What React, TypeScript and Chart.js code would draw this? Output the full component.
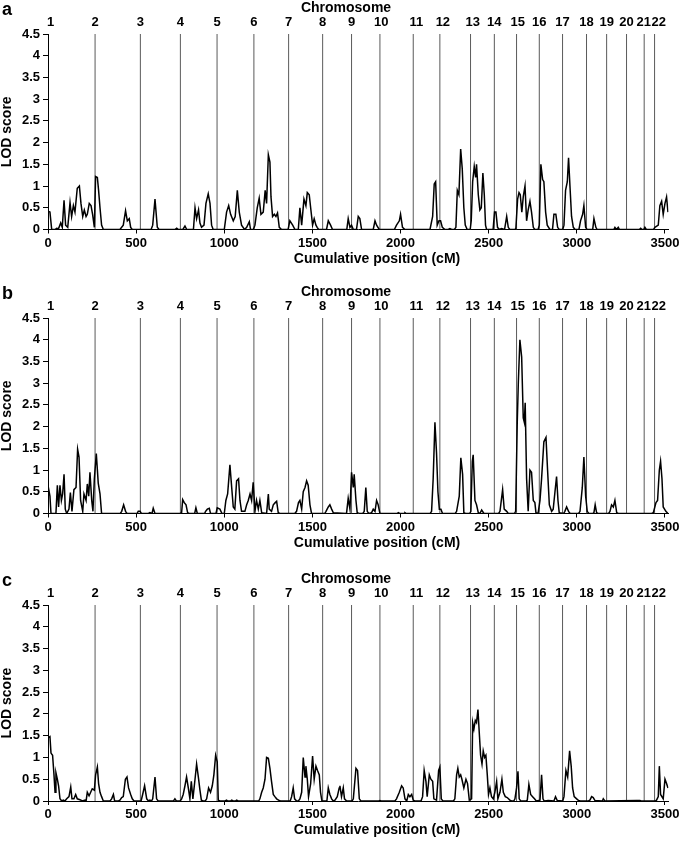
import React, { useEffect, useRef } from "react";
import { Chart, registerables } from "chart.js";

Chart.register(...registerables);

const FONT = "'Liberation Sans', Arial, Helvetica, sans-serif";

const chromosomeNames = ["1","2","3","4","5","6","7","8","9","10","11","12","13","14","15","16","17","18","19","20","21","22"];
const chromosomeStarts = [0, 267, 524, 751, 959, 1168, 1365, 1558, 1722, 1883, 2072, 2223, 2397, 2532, 2658, 2787, 2919, 3055, 3169, 3282, 3382, 3441];
const chromosomeLabelPositions = [15, 267, 524, 751, 959, 1168, 1365, 1558, 1722, 1890, 2090, 2240, 2410, 2532, 2665, 2787, 2919, 3055, 3169, 3282, 3380, 3465];
const xTickValues = [0, 500, 1000, 1500, 2000, 2500, 3000, 3500];
const yTickValues = [0, 0.5, 1, 1.5, 2, 2.5, 3, 3.5, 4, 4.5];

// Panel a
const posA = [0,11,21,40,49,60,72,81,91,100,112,125,134,144,153,166,178,187,197,206,216,223,234,244,253,263,270,280,287,295,304,314,
408,427,440,450,461,469,478,
585,594,607,620,630,
720,730,740,765,777,787,
825,834,843,854,862,871,885,896,909,919,928,937,
1000,1013,1025,1036,1051,1062,1074,1085,1098,1115,1127,1142,1149,
1165,1174,1187,1198,1208,1221,1232,1240,1250,1259,1265,1274,1284,1293,1302,1312,1325,
1362,1372,1388,1401,1420,
1429,1439,1452,1463,1471,1482,1490,1501,1510,1520,1527,1535,
1580,1590,1603,1614,
1695,1703,1713,1722,1732,1750,1760,1769,1779,
1845,1855,1864,1879,
1965,1977,1993,2000,2011,2025,
2167,2182,2191,2199,2208,2218,2227,2237,2252,
2270,2280,2290,2305,2314,2322,2331,2341,2350,2359,2367,2378,
2395,2401,2409,2418,2426,2431,2441,2450,2458,2467,2475,2482,2488,
2525,2533,2541,2550,2560,2573,2590,2602,2611,2620,
2648,2654,2664,2672,2679,2688,2696,2706,2715,2724,2734,2743,2753,2762,
2780,2787,2796,2806,2813,2823,2832,2847,
2862,2870,2881,2891,2900,
2920,2927,2936,2946,2953,2961,2970,2980,2990,
3012,3021,3033,3040,3050,3058,
3090,3097,3108,3115,
3210,3216,3225,3235,3242,
3355,3362,3370,3380,3386,3394,
3435,3443,3462,3471,3481,3490,3500,3509,3517];
const lodA = [0.42,0.4,0,0,0.03,0.02,0.15,0.05,0.67,0.1,0.05,0.62,0.3,0.55,0.4,0.95,1.0,0.6,0.3,0.45,0.3,0.35,0.6,0.55,0.35,0.05,1.22,1.2,0.9,0.5,0.1,0,
0,0.1,0.43,0.2,0.25,0.05,0,
0,0.1,0.7,0.05,0,
0,0.03,0,0,0.08,0,
0,0.5,0.25,0.45,0.15,0.05,0.1,0.6,0.82,0.6,0.1,0,
0,0.4,0.55,0.35,0.2,0.3,0.9,0.4,0.1,0,0.05,0.18,0,
0,0.1,0.5,0.72,0.35,0.4,0.9,0.6,1.72,1.55,0.75,0.3,0.35,0.3,0.38,0.05,0,
0,0.2,0.1,0,0,
0.5,0.1,0.7,0.55,0.85,0.8,0.5,0.1,0.25,0.1,0.05,0,
0,0.2,0.1,0,
0,0.25,0.05,0.1,0,0,0.3,0.25,0,
0,0.2,0.1,0,
0,0.1,0.2,0.35,0.05,0,
0,0.3,1.05,1.1,0.1,0.2,0.2,0.05,0,
0,0.02,0,0,0.05,0.9,0.8,1.85,1.4,0.5,0.1,0,
0,0.2,1.1,1.45,1.2,1.5,0.8,0.45,0.5,1.3,0.8,0.1,0,
0,0.4,0.4,0.05,0,0.02,0,0.3,0.05,0,
0,0.02,0.7,0.85,0.8,0.4,0.75,1.0,0.2,0.45,0.65,0.4,0.05,0,
0,0.1,1.5,1.15,1.1,0.4,0.1,0,
0,0.35,0.35,0.05,0,
0,0.1,0.9,1.1,1.65,1.0,0.3,0.05,0,
0,0.2,0.35,0.55,0.05,0,
0,0.25,0.05,0,
0,0.05,0,0.05,0,
0,0.03,0,0,0.05,0,
0,0.05,0.1,0.55,0.65,0.35,0.6,0.75,0.4];

// Panel b
const posB = [0,11,17,45,53,60,68,76,83,91,98,106,119,127,136,147,159,168,176,185,197,204,216,223,231,238,248,255,263,274,285,295,304,
410,418,429,440,448,
505,512,522,530,570,578,590,597,607,
750,758,764,773,783,792,800,832,839,847,888,894,904,915,922,
953,960,975,987,
1000,1009,1019,1032,1042,1051,1060,1070,1081,1089,1098,1117,1127,1136,1146,1155,1164,1174,1183,1193,1202,1212,1240,1250,1255,1268,1278,1289,1297,1306,1315,
1400,1410,1421,1429,1439,1448,1458,1467,1476,1486,1495,
1570,1577,1590,1599,1609,1618,1690,
1694,1703,1713,1722,1732,1737,1747,1754,1765,
1786,1794,1803,1811,1820,1836,1845,1855,1864,1873,1883,
1980,1987,1995,2020,2025,2032,
2168,2176,2185,2195,2204,2212,2220,2229,2238,
2310,2318,2333,2342,2352,2359,2368,
2392,2399,2407,2412,2422,2431,2441,2450,2460,2473,
2556,2564,2579,2588,2602,2611,
2646,2653,2662,2668,2677,2687,2696,2702,2707,2715,2724,2734,2743,2753,2762,2768,2780,
2791,2800,2813,2825,2834,2844,2857,2866,2876,2885,2893,2900,2925,2932,2942,2953,2962,
3010,3018,3031,3040,3050,3059,3068,
3090,3097,3104,3112,3120,
3180,3188,3197,3207,3216,3226,3235,
3425,3434,3449,3458,3468,3475,3483,3490,3505,3517];
const lodB = [0.65,0.4,0,0,0.65,0.15,0.65,0.3,0.45,0.9,0.1,0,0.1,0.48,0.05,0.55,0.6,1.48,1.3,0.3,0.05,0.45,0.3,0.68,0.4,0.95,0.3,0.05,0.8,1.38,0.7,0.45,0,
0,0.05,0.2,0.05,0,
0,0.05,0.05,0,0,0.02,0,0.12,0,
0,0.02,0.32,0.25,0.2,0.02,0,0,0.13,0,0,0.05,0.1,0.12,0,
0,0.13,0.1,0,
0,0.3,0.45,1.12,0.6,0.15,0.1,0.75,0.8,0.3,0.05,0.05,0.2,0.3,0.45,0.3,0.72,0.05,0.3,0.1,0.3,0.02,0,0.45,0.1,0.05,0.2,0.25,0.28,0.02,0,
0,0.05,0.25,0.3,0.1,0.5,0.6,0.75,0.65,0.2,0,
0,0.05,0.15,0.2,0.1,0.02,0,
0.02,0.35,0.1,0.95,0.6,0.9,0.3,0.02,0,
0,0.05,0.6,0.05,0,0.02,0.1,0.05,0.3,0.2,0,
0,0.02,0,0,0.02,0,
0,0.05,0.8,2.1,1.4,0.5,0.1,0.1,0,
0,0.05,0.4,1.28,0.9,0.02,0,
0,0.05,1.2,1.35,0.3,0.2,0.02,0,0.08,0,
0,0.05,0.55,0.1,0.05,0,
0,0.05,2.1,3.0,4.0,3.6,2.2,2.1,2.55,0.8,0.05,1.0,0.95,0.3,0.25,0.02,0,
0.3,0.8,1.65,1.75,1.0,0.2,0.05,0.1,0.5,0.85,0.3,0.02,0,0.05,0.15,0.05,0,
0,0.05,0.6,1.3,0.4,0.05,0,
0,0.02,0.2,0.02,0,
0,0.05,0.2,0.15,0.3,0.02,0,
0,0.02,0.25,0.3,1.0,1.2,0.8,0.15,0.05,0];

// Panel c
const posC = [0,11,17,26,34,40,45,53,60,68,78,87,96,106,119,129,136,147,157,166,181,195,210,216,223,233,242,251,263,270,280,287,295,304,314,
352,361,371,378,
400,408,418,427,439,448,457,469,478,488,
528,537,548,560,570,578,587,594,607,616,625,
712,720,728,750,758,767,777,786,796,805,813,822,834,843,853,862,870,880,
892,900,911,922,932,941,951,960,966,975,
1005,1013,1020,1035,1042,1050,1063,1070,1078,
1195,1202,1212,1221,1231,1240,1250,1259,1268,1278,1287,1297,1308,1318,
1374,1382,1391,1399,1410,1420,
1429,1439,1448,1458,1463,1471,1478,1490,1501,1510,1520,1529,1539,1546,1554,
1582,1590,1599,1609,1618,1628,1641,1652,1656,1665,1675,1682,1694,
1725,1732,1747,1756,1766,1775,
1876,1883,1890,
1968,1977,1993,2006,2015,2025,2035,2044,2053,2063,2072,2080,
2116,2125,2134,2144,2151,2163,2172,2182,2189,2204,2216,2223,2231,2240,
2300,2308,2318,2325,2333,2341,2348,2359,2371,2380,2390,
2403,2409,2416,2424,2431,2439,2446,2454,2462,2469,2477,2484,2492,2499,2507,2516,2526,2535,2545,2552,2564,2575,2583,2594,2605,2620,2630,
2642,2649,2658,2666,2673,2682,
2712,2719,2728,2738,2749,2760,2770,2791,2800,2808,2815,2838,2870,2879,2889,
2920,2927,2938,2948,2959,2968,2976,2985,2999,3010,3020,
3066,3074,3084,3093,3103,3145,3150,3159,
3339,3358,3365,
3445,3452,3462,3468,3475,3490,3500,3509,3517];
const lodC = [1.45,1.48,1.1,1.05,0.6,0.2,0.65,0.5,0.35,0.05,0,0.02,0,0.05,0.1,0.32,0.05,0.05,0.15,0.05,0.03,0,0.02,0,0.2,0.12,0.2,0.28,0.25,0.6,0.78,0.4,0.2,0.1,0,
0,0.05,0.15,0,
0,0.02,0.08,0.1,0.5,0.55,0.3,0.15,0.05,0,
0,0.15,0.35,0.05,0,0.02,0,0.05,0.55,0.05,0,
0,0.05,0,0,0.05,0.15,0.35,0.55,0.3,0.05,0.45,0.05,0.5,0.85,0.55,0.25,0.02,0,
0,0.05,0.3,0.2,0.35,0.6,1.05,0.9,0.02,0,
0,0.02,0,0,0.02,0,0,0.02,0,
0,0.05,0.2,0.3,0.5,1.0,0.98,0.75,0.45,0.15,0.1,0.05,0.02,0,
0,0.1,0.3,0.05,0,0,
0.05,0.2,1.0,0.55,0.8,0.5,0.1,0.4,1.03,0.5,0.8,0.7,0.6,0.2,0,
0,0.3,0.15,0.05,0,0.02,0.1,0.3,0.35,0.1,0.3,0.05,0,
0,0.05,0.75,0.7,0.05,0,
0,0.01,0,
0,0.05,0.2,0.35,0.3,0.05,0,0.15,0.1,0.15,0.02,0,
0,0.1,0.7,0.45,0.1,0.6,0.5,0.45,0.05,0.02,0.7,0.78,0.05,0,
0,0.05,0.6,0.75,0.55,0.6,0.5,0.3,0.5,0.4,0.02,
0.05,1.8,1.65,1.85,1.8,2.1,1.6,1.05,0.85,1.15,1.0,1.05,0.6,0.15,0.3,0.1,0.05,0.2,0.45,0.05,0.2,0.5,0.2,0.1,0.08,0.02,0,
0,0.05,0.3,0.68,0.05,0,
0,0.02,0.38,0.15,0.1,0.05,0,0.02,0.6,0.05,0,0.01,0,0.1,0.01,
0,0.1,0.7,0.55,1.15,0.8,0.3,0.1,0.05,0.01,0,
0,0.02,0.1,0.08,0.01,0,0.05,0,
0.01,0.01,0,
0,0.02,0.1,0.8,0.15,0.05,0.5,0.4,0.3];

const X_MAX = 3520;
const Y_MAX = 4.5;

type PanelProps = {
  letter: string;
  positions: number[];
  values: number[];
  top: number;
  height: number;
  areaBottom: number;
};

function Panel({ letter, positions, values, top, height, areaBottom }: PanelProps) {
  const ref = useRef<HTMLCanvasElement>(null);

  useEffect(() => {
    if (!ref.current) return;
    const lodData = positions.map((p, i) => ({ x: p, y: values[i] }));
    const boundaryData: { x: number; y: number | null }[] = [];
    chromosomeStarts.slice(1).forEach((b) => {
      boundaryData.push({ x: b, y: 0 }, { x: b, y: Y_MAX }, { x: b, y: null });
    });

    const textPlugin = {
      id: "panelText",
      afterDraw(chart: any) {
        const ctx = chart.ctx;
        ctx.save();
        ctx.fillStyle = "#000";
        ctx.font = `bold 18px ${FONT}`;
        ctx.textAlign = "left";
        ctx.textBaseline = "alphabetic";
        ctx.fillText(letter, 2, 15);
        ctx.font = `bold 14px ${FONT}`;
        ctx.textAlign = "center";
        ctx.textBaseline = "middle";
        ctx.fillText("Chromosome", 346, 8.5);
        ctx.fillText("Cumulative position (cM)", 377, 259);
        ctx.restore();
      },
    };

    const tickFont = { family: FONT, size: 13, weight: "bold" as const };

    const chart = new Chart(ref.current, {
      type: "line",
      data: {
        datasets: [
          {
            data: lodData,
            borderColor: "#000",
            borderWidth: 1.5,
            pointRadius: 0,
            tension: 0,
            order: 0,
            xAxisID: "x",
            yAxisID: "y",
          },
          {
            data: boundaryData as any,
            borderColor: "#5a5a5a",
            borderWidth: 1,
            pointRadius: 0,
            spanGaps: false,
            order: 1,
            xAxisID: "x",
            yAxisID: "y",
          },
        ],
      },
      options: {
        responsive: false,
        animation: false,
        layout: { padding: { left: 0, right: 13.5, top: 0, bottom: 0 } },
        plugins: { legend: { display: false }, tooltip: { enabled: false } },
        scales: {
          x: {
            type: "linear",
            position: "bottom",
            min: 0,
            max: X_MAX,
            afterBuildTicks: (s: any) => {
              s.ticks = xTickValues.map((v) => ({ value: v }));
            },
            afterFit: (s: any) => {
              s.height = height - areaBottom;
            },
            grid: { drawOnChartArea: false, drawTicks: true, tickLength: 4, color: "#000" },
            border: { color: "#000", width: 1 },
            ticks: {
              font: tickFont,
              color: "#000",
              padding: 2,
              maxRotation: 0,
              autoSkip: false,
              callback: (v: any) => String(v),
            },
          },
          xTop: {
            type: "linear",
            position: "top",
            min: 0,
            max: X_MAX,
            afterBuildTicks: (s: any) => {
              s.ticks = chromosomeLabelPositions.map((v) => ({ value: v }));
            },
            afterFit: (s: any) => {
              s.height = 34;
            },
            grid: { display: false, drawTicks: false },
            border: { display: false },
            ticks: {
              font: tickFont,
              color: "#000",
              padding: 4,
              maxRotation: 0,
              autoSkip: false,
              callback: (_v: any, i: number) => chromosomeNames[i],
            },
          },
          y: {
            type: "linear",
            min: 0,
            max: Y_MAX,
            afterBuildTicks: (s: any) => {
              s.ticks = yTickValues.map((v) => ({ value: v }));
            },
            afterFit: (s: any) => {
              s.width = 48;
            },
            grid: { drawOnChartArea: false, drawTicks: true, tickLength: 5, color: "#000" },
            border: { color: "#000", width: 1 },
            ticks: {
              font: tickFont,
              color: "#000",
              padding: 3,
              autoSkip: false,
              callback: (v: any) => String(v),
            },
            title: {
              display: true,
              text: "LOD score",
              color: "#000",
              font: { family: FONT, size: 14, weight: "bold", lineHeight: 1 },
              padding: 0,
            },
          },
        },
      },
      plugins: [textPlugin],
    } as any);

    return () => chart.destroy();
  }, [letter, positions, values, height, areaBottom]);

  return (
    <canvas
      ref={ref}
      width={682}
      height={height}
      style={{ position: "absolute", left: 0, top, width: 682, height, display: "block" }}
    />
  );
}

export default function App() {
  return (
    <div style={{ position: "absolute", left: 0, top: 0, width: 682, height: 845, background: "#fff" }}>
      <Panel letter="a" positions={posA} values={lodA} top={0} height={270} areaBottom={229.5} />
      <Panel letter="b" positions={posB} values={lodB} top={284} height={270} areaBottom={229.5} />
      <Panel letter="c" positions={posC} values={lodC} top={571} height={274} areaBottom={230} />
    </div>
  );
}
